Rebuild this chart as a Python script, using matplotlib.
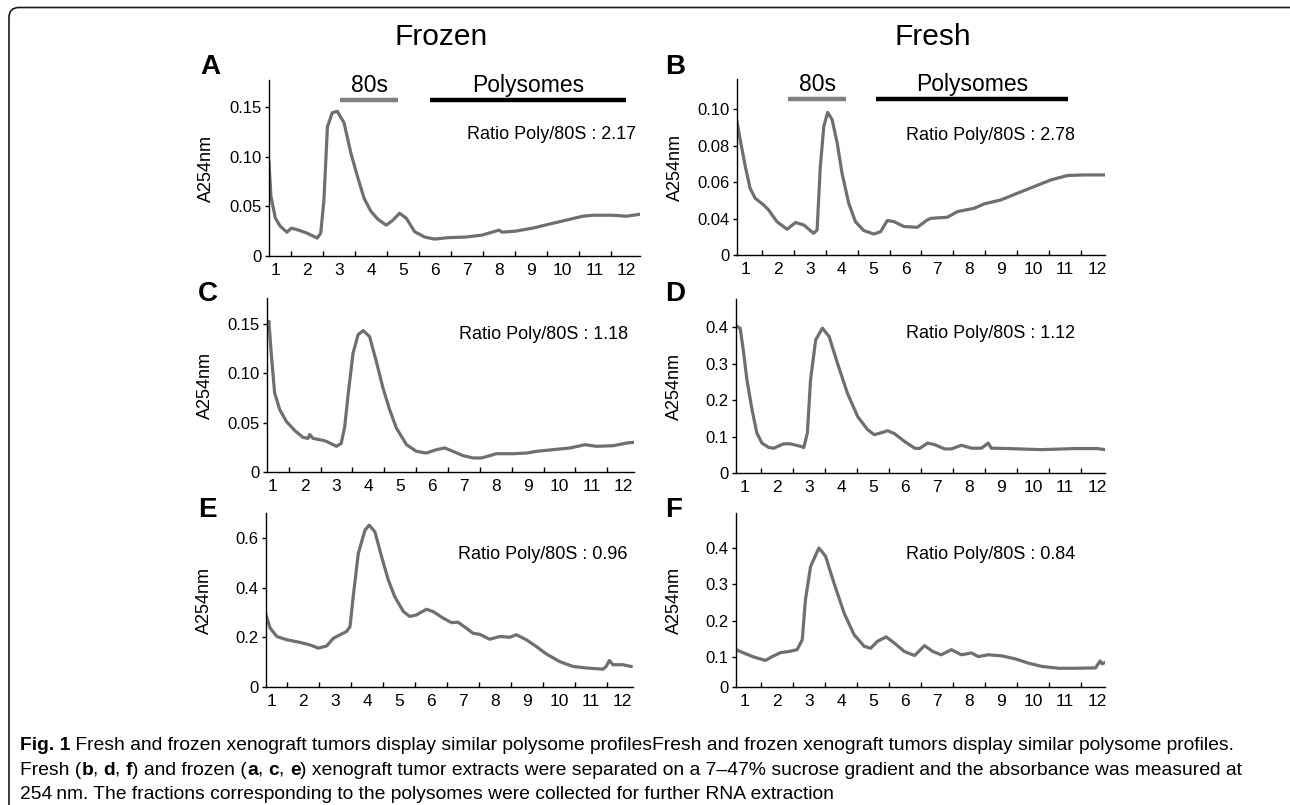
import matplotlib
matplotlib.use('Agg')
import matplotlib.pyplot as plt
from matplotlib import font_manager
from matplotlib.patches import FancyBboxPatch
from matplotlib.transforms import IdentityTransform
from matplotlib.text import Annotation

plt.rcParams['font.family'] = ['Liberation Sans', 'DejaVu Sans']

# fraction position (fraction numbers 1..12) and A254 readings per panel
a_x = [0.80, 0.86, 1.00, 1.15, 1.36, 1.50, 1.73, 1.99, 2.31, 2.42, 2.52, 2.63, 2.78, 2.94,
       3.15, 3.36, 3.57, 3.78, 3.99, 4.21, 4.47, 4.68, 4.89, 5.10, 5.36, 5.68, 5.99, 6.42,
       6.94, 7.47, 8.00, 8.10, 8.52, 9.05, 9.57, 10.10, 10.63, 10.94, 11.57, 11.99, 12.42]
a_y = [0.094, 0.060, 0.038, 0.030, 0.024, 0.028, 0.026, 0.023, 0.018, 0.023, 0.056, 0.130,
       0.144, 0.1455, 0.134, 0.104, 0.080, 0.058, 0.045, 0.037, 0.031, 0.036, 0.043, 0.038,
       0.0245, 0.019, 0.017, 0.0185, 0.019, 0.021, 0.026, 0.024, 0.025, 0.028, 0.032, 0.036,
       0.040, 0.041, 0.041, 0.040, 0.042]

b_x = [0.72, 0.82, 0.98, 1.13, 1.29, 1.55, 1.71, 1.97, 2.29, 2.55, 2.81, 3.12, 3.23, 3.33,
       3.44, 3.56, 3.70, 3.86, 4.01, 4.22, 4.43, 4.69, 5.01, 5.22, 5.43, 5.64, 5.95, 6.37,
       6.68, 6.79, 7.31, 7.63, 8.15, 8.46, 8.99, 9.51, 10.03, 10.56, 11.08, 11.60, 12.25]
b_y = [0.0932, 0.0832, 0.0685, 0.0566, 0.0511, 0.0475, 0.0447, 0.0383, 0.0341, 0.0378,
       0.0365, 0.0319, 0.0337, 0.0685, 0.0905, 0.0982, 0.0942, 0.0813, 0.0649, 0.0484,
       0.0383, 0.0334, 0.0315, 0.0328, 0.0389, 0.0383, 0.0356, 0.0352, 0.0392, 0.0401,
       0.0407, 0.0438, 0.0456, 0.0480, 0.0502, 0.0539, 0.0575, 0.0612, 0.0636, 0.0639, 0.0639]

c_x = [0.88, 0.96, 1.06, 1.22, 1.43, 1.69, 1.95, 2.11, 2.16, 2.26, 2.58, 2.68, 3.00, 3.15,
       3.26, 3.36, 3.52, 3.68, 3.84, 4.04, 4.25, 4.46, 4.67, 4.88, 5.20, 5.51, 5.82, 6.14,
       6.40, 6.66, 6.98, 7.29, 7.55, 7.81, 8.02, 8.55, 8.97, 9.28, 9.80, 10.33, 10.80, 11.16,
       11.69, 12.11, 12.32]
c_y = [0.152, 0.117, 0.080, 0.063, 0.051, 0.042, 0.035, 0.034, 0.038, 0.034, 0.032, 0.031,
       0.026, 0.029, 0.046, 0.0765, 0.120, 0.139, 0.143, 0.137, 0.112, 0.085, 0.063, 0.0445,
       0.0276, 0.0209, 0.0192, 0.0226, 0.0243, 0.0209, 0.0165, 0.0142, 0.0142, 0.0165,
       0.0185, 0.0185, 0.0192, 0.0209, 0.0226, 0.0243, 0.0276, 0.026, 0.0266, 0.0293, 0.030]

d_x = [0.75, 0.85, 0.96, 1.06, 1.22, 1.37, 1.53, 1.74, 1.90, 2.21, 2.42, 2.74, 2.84, 2.95,
       3.05, 3.21, 3.42, 3.63, 3.89, 4.20, 4.52, 4.83, 5.04, 5.25, 5.46, 5.67, 5.98, 6.30,
       6.45, 6.71, 6.92, 7.24, 7.45, 7.76, 8.08, 8.39, 8.60, 8.70, 9.23, 10.27, 11.32, 12.00,
       12.25]
d_y = [0.402, 0.397, 0.329, 0.256, 0.174, 0.110, 0.082, 0.070, 0.068, 0.080, 0.080, 0.073,
       0.070, 0.110, 0.256, 0.365, 0.397, 0.374, 0.301, 0.219, 0.155, 0.119, 0.105, 0.110,
       0.116, 0.108, 0.087, 0.068, 0.067, 0.082, 0.078, 0.066, 0.066, 0.076, 0.068, 0.068,
       0.082, 0.068, 0.067, 0.064, 0.067, 0.067, 0.064]

e_x = [0.83, 0.96, 1.17, 1.48, 1.90, 2.21, 2.47, 2.73, 2.94, 3.15, 3.35, 3.46, 3.56, 3.72,
       3.93, 4.06, 4.24, 4.45, 4.66, 4.86, 5.13, 5.33, 5.54, 5.85, 6.06, 6.38, 6.64, 6.84,
       7.10, 7.31, 7.52, 7.83, 8.15, 8.46, 8.67, 8.98, 9.29, 9.60, 10.02, 10.44, 10.85, 11.38,
       11.48, 11.58, 11.69, 12.00, 12.26]
e_y = [0.291, 0.238, 0.204, 0.191, 0.180, 0.170, 0.157, 0.166, 0.197, 0.211, 0.224, 0.244,
       0.365, 0.540, 0.634, 0.654, 0.627, 0.526, 0.432, 0.365, 0.305, 0.285, 0.291, 0.314,
       0.305, 0.278, 0.260, 0.262, 0.238, 0.217, 0.213, 0.193, 0.204, 0.201, 0.211, 0.191,
       0.164, 0.134, 0.103, 0.083, 0.077, 0.072, 0.083, 0.107, 0.090, 0.090, 0.083]

f_x = [0.73, 0.96, 1.27, 1.64, 1.85, 2.11, 2.37, 2.63, 2.79, 2.89, 3.05, 3.31, 3.52, 3.78,
       4.10, 4.41, 4.73, 4.93, 5.14, 5.41, 5.67, 5.98, 6.30, 6.61, 6.87, 7.13, 7.45, 7.76,
       8.08, 8.29, 8.60, 9.02, 9.44, 9.86, 10.28, 10.80, 11.32, 11.95, 12.10, 12.16, 12.25]
f_y = [0.121, 0.112, 0.101, 0.0915, 0.102, 0.113, 0.116, 0.121, 0.148, 0.258, 0.349, 0.400,
       0.377, 0.304, 0.221, 0.162, 0.130, 0.125, 0.144, 0.156, 0.139, 0.116, 0.105, 0.132,
       0.116, 0.107, 0.121, 0.107, 0.112, 0.102, 0.107, 0.104, 0.096, 0.084, 0.075, 0.070,
       0.070, 0.071, 0.090, 0.082, 0.086]

fraction_labels = [str(i) for i in range(1, 13)]
ratios = ['2.17', '2.78', '1.18', '1.12', '0.96', '0.84']
panel_letters = ['A', 'B', 'C', 'D', 'E', 'F']

# ytick positions/labels (B and F have the "0" drawn at the axis floor)
yticks = [[0, 0.05, 0.10, 0.15], [0.02, 0.04, 0.06, 0.08, 0.10], [0, 0.05, 0.10, 0.15],
          [0, 0.1, 0.2, 0.3, 0.4], [0, 0.2, 0.4, 0.6], [0.0186, 0.1, 0.2, 0.3, 0.4]]
yticklabels = [['0', '0.05', '0.10', '0.15'], ['0', '0.04', '0.06', '0.08', '0.10'],
               ['0', '0.05', '0.10', '0.15'], ['0', '0.1', '0.2', '0.3', '0.4'],
               ['0', '0.2', '0.4', '0.6'], ['0', '0.1', '0.2', '0.3', '0.4']]
ylims = [(0, 0.177), (0.02, 0.1165), (0, 0.176), (0, 0.477), (0, 0.703), (0.0186, 0.496)]
xlims = [(0.80, 12.42), (0.72, 12.25), (0.82, 12.34), (0.72, 12.25), (0.83, 12.32), (0.72, 12.25)]

# 80s / polysome fraction bars for A and B
bar_80s = [(3.02, 4.85), (2.33, 4.15)]
bar_poly = [(5.84, 11.97), (5.06, 11.10)]

W, H = 1290, 805
fig = plt.figure(figsize=(W / 100, H / 100), dpi=100)

# axes boxes in pixels: left, right, top, bottom
boxes = [(269, 640, 80, 256), (737, 1105, 79, 255),
         (267, 634, 298, 472), (736, 1105, 299, 473),
         (266, 633, 513, 687), (736, 1105, 513, 687)]
ratio_pos = [(0.989, 0.688), (0.918, 0.68), (0.984, 0.793),
             (0.919, 0.799), (0.986, 0.759), (0.919, 0.759)]
letter_pos = [(200, 67), (665, 67), (198, 294), (665, 294), (198, 510), (665, 510)]

xs = [a_x, b_x, c_x, d_x, e_x, f_x]
ys = [a_y, b_y, c_y, d_y, e_y, f_y]

curve_color = '#6f6f6f'

for i in range(6):
    l, r, t, b = boxes[i]
    ax = fig.add_axes([l / W, 1 - b / H, (r - l) / W, (b - t) / H])
    ax.plot(xs[i], ys[i], color=curve_color, lw=2.3, solid_joinstyle='round')
    ax.set_xlim(*xlims[i])
    ax.set_ylim(*ylims[i])
    for s in ['top', 'right']:
        ax.spines[s].set_visible(False)
    for s in ['left', 'bottom']:
        ax.spines[s].set_linewidth(1.0)
    major = [k + 0.5 for k in range(1, 13) if k + 0.5 <= xlims[i][1]]
    ax.set_xticks(major)
    ax.set_xticklabels([])
    ax.set_xticks(range(1, 13), minor=True)
    ax.set_xticklabels(fraction_labels, minor=True)
    ax.tick_params(axis='x', which='major', direction='in', length=3.5, width=1.0)
    ax.tick_params(axis='x', which='minor', length=0, labelsize=12.5, pad=5)
    ax.set_yticks(yticks[i])
    ax.set_yticklabels(yticklabels[i])
    ax.tick_params(axis='y', direction='out', length=3, width=1.0, labelsize=12, pad=2.5)
    ax.set_ylabel('A254nm', fontsize=13)
    ax.yaxis.set_label_coords(-0.145, 0.5)
    ax.text(ratio_pos[i][0], ratio_pos[i][1], 'Ratio Poly/80S : ' + ratios[i],
            transform=ax.transAxes, ha='right', va='center', fontsize=13)
    fig.text(letter_pos[i][0] / W, 1 - letter_pos[i][1] / H, panel_letters[i],
             fontsize=20, fontweight='bold', ha='left', va='center')
    if i < 2:
        bar_y = 0.885
        x0, x1 = bar_80s[i]
        ax.plot([x0, x1], [bar_y, bar_y], transform=ax.get_xaxis_transform(),
                color='#808080', lw=3.2, solid_capstyle='butt', clip_on=False)
        ax.text((x0 + x1) / 2, 0.97, '80s', transform=ax.get_xaxis_transform(),
                ha='center', va='center', fontsize=16.5)
        x0, x1 = bar_poly[i]
        ax.plot([x0, x1], [bar_y, bar_y], transform=ax.get_xaxis_transform(),
                color='black', lw=3.2, solid_capstyle='butt', clip_on=False)
        ax.text((x0 + x1) / 2, 0.97, 'Polysomes', transform=ax.get_xaxis_transform(),
                ha='center', va='center', fontsize=16.5)

fig.text(441 / W, 1 - 37 / H, 'Frozen', fontsize=21.5, ha='center', va='center')
fig.text(933 / W, 1 - 37 / H, 'Fresh', fontsize=21.5, ha='center', va='center')

# outer frame with rounded corners (pixel coords)
frame = FancyBboxPatch((9, -30), 1300, H - 7.5 + 30,
                       boxstyle='round,pad=0,rounding_size=10',
                       transform=IdentityTransform(), fill=False,
                       edgecolor='#1a1a1a', lw=1.2)
fig.add_artist(frame)

# caption
try:
    font_manager.findfont('Liberation Sans Narrow', fallback_to_default=False)
    cap_family = ['Liberation Sans Narrow', 'DejaVu Sans']
    cap_size = 16.5
except ValueError:
    cap_family = ['Liberation Sans', 'DejaVu Sans']
    cap_size = 13.9

cap_lines = [
    [('Fig. 1', True), (' Fresh and frozen xenograft tumors display similar polysome profiles'
                        'Fresh and frozen xenograft tumors display similar polysome profiles.', False)],
    [('Fresh (', False), ('b', True), (', ', False), ('d', True), (', ', False), ('f', True),
     (') and frozen (', False), ('a', True), (', ', False), ('c', True), (', ', False), ('e', True),
     (') xenograft tumor extracts were separated on a 7\u201347% sucrose gradient and the '
      'absorbance was measured at', False)],
    [('254\u2009nm. The fractions corresponding to the polysomes were collected for further '
      'RNA extraction', False)],
]
cap_y = [745, 770, 794]

for line, yy in zip(cap_lines, cap_y):
    txt, bold = line[0]
    prev = fig.text(20 / W, 1 - yy / H, txt, fontsize=cap_size, family=cap_family,
                    fontweight='bold' if bold else 'normal', ha='left', va='center')
    for txt, bold in line[1:]:
        ann = Annotation(txt, xy=(1, 0), xycoords=prev, ha='left', va='bottom',
                         fontsize=cap_size, family=cap_family,
                         fontweight='bold' if bold else 'normal')
        fig.add_artist(ann)
        prev = ann

fig.savefig('out.png', dpi=100)
